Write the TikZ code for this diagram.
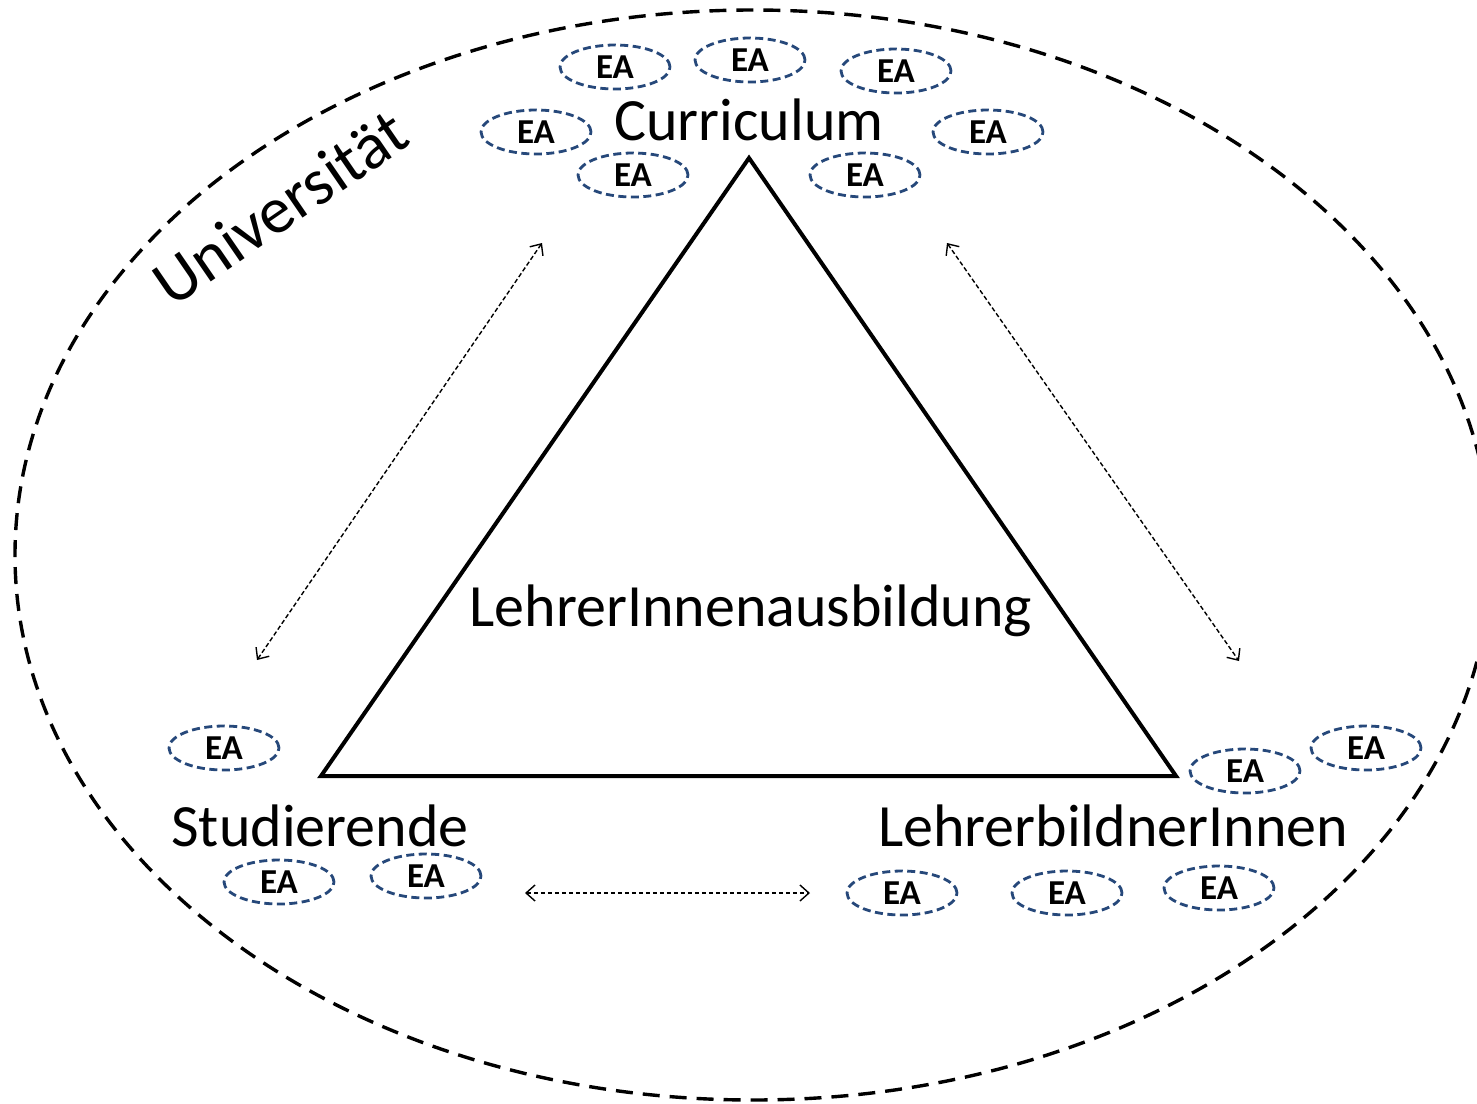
\documentclass[tikz,border=0pt]{standalone}
\usepackage{fontspec}
\setmainfont{Carlito}
\usetikzlibrary{arrows.meta,shapes.geometric}
\definecolor{eablue}{RGB}{38,72,122}
\tikzset{
  ea/.style={draw=eablue, line width=2.8pt, dash pattern=on 8pt off 4.5pt,
    ellipse, minimum width=110pt, minimum height=44pt, inner sep=0pt,
    font=\fontsize{35}{35}\selectfont\bfseries},
  lbl/.style={font=\fontsize{60}{60}\selectfont, inner sep=0pt},
  link/.style={line width=1.4pt, dash pattern=on 4.5pt off 2.5pt,
    {Straight Barb[length=9pt,width=16pt,line width=1.4pt]}-{Straight Barb[length=9pt,width=16pt,line width=1.4pt]}},
}
\begin{document}
\begin{tikzpicture}[x=1pt,y=-1pt]
\useasboundingbox (0,0) rectangle (1477,1103);
\clip (0,0) rectangle (1477,1103);
\fill[white] (0,0) rectangle (1477,1103);

% university boundary
\draw[line width=3.4pt, dash pattern=on 17pt off 10pt] (753,555) ellipse [x radius=738, y radius=545];
\node[lbl, font=\fontsize{66}{66}\selectfont, rotate=34.5] (uni) at (280,207) {Universität};

% triangle
\coordinate (top) at (749,158);
\coordinate (bl) at (321,776);
\coordinate (br) at (1176,776);
\draw[line width=4pt, line join=miter] (top) -- (bl) -- (br) -- cycle;
\node[lbl] (centre) at (751,611) {LehrerInnenausbildung};

% corner labels
\node[lbl] (cur) at (749,120) {Curriculum};
\node[lbl] (stud) at (320,826) {Studierende};
\node[lbl] (lb) at (1113,826) {LehrerbildnerInnen};

% relations
\coordinate (a1) at (542,243);
\coordinate (a2) at (257,660);
\coordinate (b1) at (947,243);
\coordinate (b2) at (1239,661);
\coordinate (c1) at (525,893);
\coordinate (c2) at (810,893);
\draw[link] (a1) -- (a2);
\draw[link] (b1) -- (b2);
\draw[link] (c1) -- (c2);

% EA around Curriculum
\node[ea] (ea1) at (615,67) {EA};
\node[ea] (ea2) at (750,60) {EA};
\node[ea] (ea3) at (896,71) {EA};
\node[ea] (ea4) at (536,132) {EA};
\node[ea] (ea5) at (988,132) {EA};
\node[ea] (ea6) at (633,175) {EA};
\node[ea] (ea7) at (865,175) {EA};
% EA around Studierende
\node[ea] (ea8) at (224,748) {EA};
\node[ea] (ea9) at (279,882) {EA};
\node[ea] (ea10) at (426,876) {EA};
% EA around LehrerbildnerInnen
\node[ea] (ea11) at (1245,771) {EA};
\node[ea] (ea12) at (1366,748) {EA};
\node[ea] (ea13) at (902,893) {EA};
\node[ea] (ea14) at (1067,893) {EA};
\node[ea] (ea15) at (1219,888) {EA};
\end{tikzpicture}
\end{document}
